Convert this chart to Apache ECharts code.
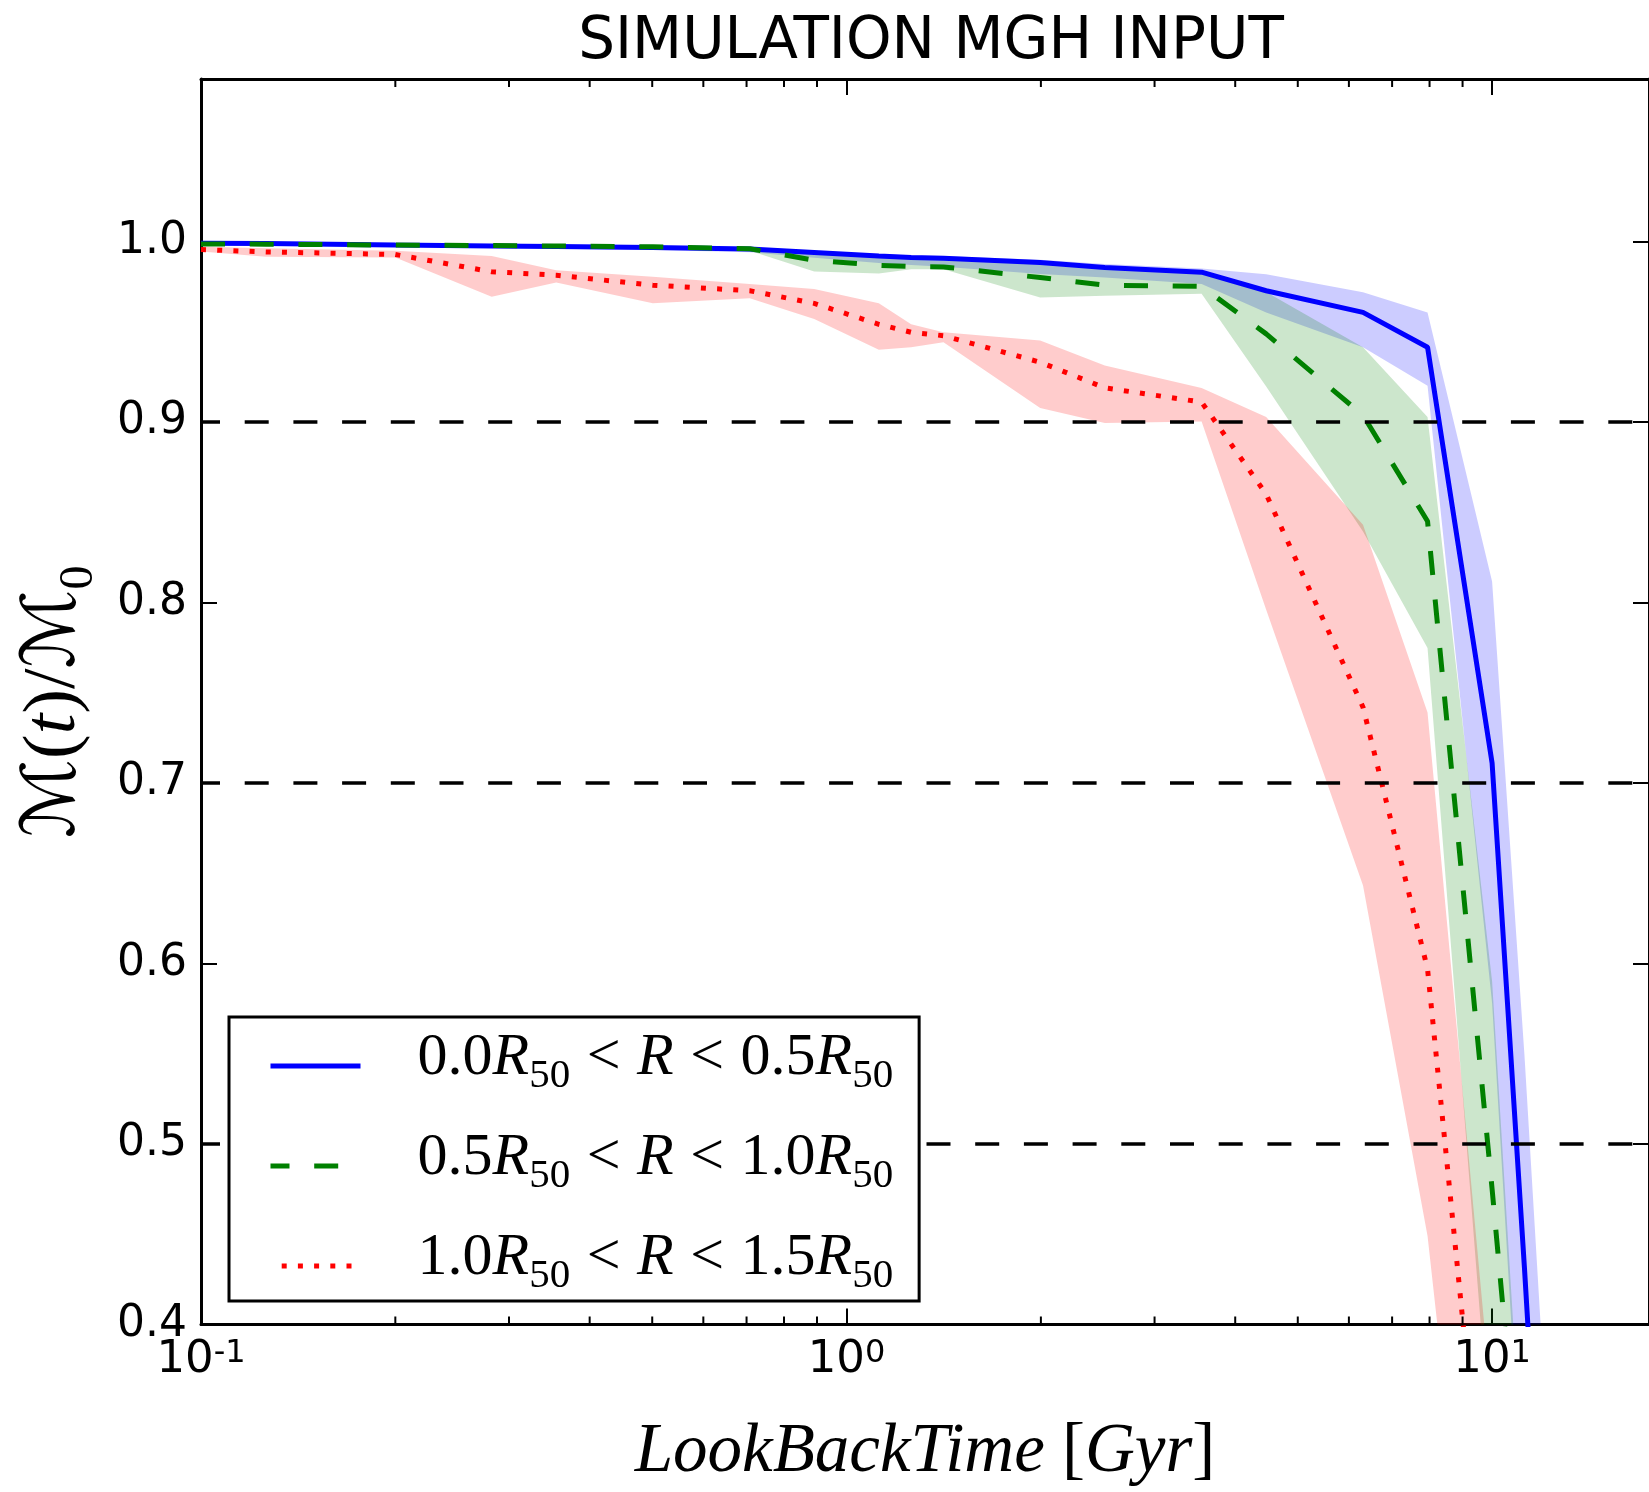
<!DOCTYPE html>
<html><head><meta charset="utf-8">
<script src="https://cdn.jsdelivr.net/npm/echarts@6/dist/echarts.min.js"></script>
<style>html,body{margin:0;padding:0;background:#fff}#c{width:1649px;height:1492px}</style>
</head><body><div id="c"></div>
<script>
const TITLE = 'SIMULATION MGH INPUT';
// look-back time grid (Gyr)
const LOOKBACK_GYR = [0.1, 0.126, 0.2, 0.282, 0.355, 0.501, 0.708, 0.891, 1.122, 1.259, 1.413, 1.995, 2.512, 3.548, 4.467, 6.31, 7.943, 10.0, 11.22, 12.59];
// 0.0-0.5 R50
const BLUE_MED = [0.999, 0.9988, 0.998, 0.9975, 0.9972, 0.9966, 0.9958, 0.9939, 0.992, 0.9911, 0.9907, 0.9883, 0.9856, 0.983, 0.9727, 0.9607, 0.9414, 0.711, 0.432, 0.134];
const BLUE_LO  = [0.998, 0.9978, 0.997, 0.9965, 0.996, 0.9952, 0.994, 0.991, 0.988, 0.987, 0.986, 0.982, 0.980, 0.9764, 0.9607, 0.9414, 0.920, 0.578, 0.28, 0.0];
const BLUE_HI  = [1.0, 0.9996, 0.9988, 0.9983, 0.998, 0.9974, 0.9966, 0.9948, 0.993, 0.9922, 0.992, 0.9898, 0.9875, 0.985, 0.9819, 0.9718, 0.9607, 0.8116, 0.55, 0.252];
// 0.5-1.0 R50
const GREEN_MED = [0.9986, 0.9985, 0.998, 0.9977, 0.9975, 0.997, 0.996, 0.9896, 0.9868, 0.9861, 0.9859, 0.980, 0.9758, 0.9751, 0.9488, 0.9037, 0.845, 0.475, 0.28, 0.1];
const GREEN_LO  = [0.998, 0.9978, 0.9972, 0.997, 0.9968, 0.9962, 0.9948, 0.9834, 0.9823, 0.9846, 0.9846, 0.969, 0.9699, 0.971, 0.9196, 0.8393, 0.7748, 0.32, 0.05, -0.2];
const GREEN_HI  = [0.999, 0.9988, 0.9982, 0.998, 0.9978, 0.9972, 0.9962, 0.994, 0.992, 0.991, 0.9905, 0.988, 0.9855, 0.983, 0.972, 0.9414, 0.9028, 0.59, 0.30, 0.0];
// 1.0-1.5 R50
const RED_MED = [0.9955, 0.9942, 0.9928, 0.9832, 0.9813, 0.9758, 0.9727, 0.9657, 0.9541, 0.9497, 0.9478, 0.9331, 0.9189, 0.911, 0.860, 0.742, 0.597, 0.24, 0.0, -0.3];
const RED_LO  = [0.9944, 0.9915, 0.9911, 0.9694, 0.9773, 0.9657, 0.9686, 0.957, 0.940, 0.9414, 0.9441, 0.9077, 0.8994, 0.9003, 0.796, 0.6432, 0.449, 0.126, -0.1, -0.3];
const RED_HI  = [0.997, 0.9962, 0.9948, 0.992, 0.9841, 0.9804, 0.9764, 0.9737, 0.9657, 0.9542, 0.9497, 0.9451, 0.9313, 0.9188, 0.9028, 0.843, 0.739, 0.353, 0.1, -0.2];

const BINS = [['0.0', '0.5'], ['0.5', '1.0'], ['1.0', '1.5']];
const SERIES_NAMES = BINS.map(b => b[0] + 'R50<R<' + b[1] + 'R50');
const REF_LEVELS = [0.9, 0.7, 0.5];
const MINOR_X_TICKS = [0.2, 0.3, 0.4, 0.5, 0.6, 0.7, 0.8, 0.9, 2, 3, 4, 5, 6, 7, 8, 9];
const X_MIN = 0.1, X_MAX = 17.5, Y_MIN = 0.4, Y_MAX = 1.09, Y_STEP = 0.1;

const COLORS = ['#0000ff', '#008000', '#ff0000'];
const BAND_COLORS = ['rgba(0,0,255,0.2)', 'rgba(0,128,0,0.2)', 'rgba(255,0,0,0.2)'];
const MEDS = [BLUE_MED, GREEN_MED, RED_MED];
const LOS = [BLUE_LO, GREEN_LO, RED_LO];
const HIS = [BLUE_HI, GREEN_HI, RED_HI];
const DASHES = ['solid', [24, 24.7], [5, 11.2]];

const SERIF = "'Liberation Serif', 'DejaVu Serif', serif";

const series = [];
// shaded bands: polygon between LO and HI, positioned through the axes
for (let k = 0; k < 3; k++) {
  series.push({
    type: 'custom', name: 'band' + k, silent: true, z: 1, clip: true,
    data: LOOKBACK_GYR.map((t, i) => [t, LOS[k][i], HIS[k][i]]),
    encode: { x: 0, y: [1, 2] },
    renderItem: function (params, api) {
      if (params.dataIndex !== 0) return null;
      const up = LOOKBACK_GYR.map((t, i) => api.coord([t, HIS[k][i]]));
      const lo = LOOKBACK_GYR.map((t, i) => api.coord([t, LOS[k][i]])).reverse();
      return { type: 'polygon', shape: { points: up.concat(lo) }, style: { fill: BAND_COLORS[k] } };
    }
  });
}
for (let k = 0; k < 3; k++) {
  series.push({
    type: 'line', name: SERIES_NAMES[k], z: 3,
    data: LOOKBACK_GYR.map((t, i) => [t, MEDS[k][i]]),
    symbol: 'none', showSymbol: false, color: COLORS[k],
    lineStyle: { color: COLORS[k], width: 5, type: DASHES[k], cap: 'butt' }
  });
}
// reference levels
series.push({
  type: 'line', name: 'ref', data: [], z: 3, silent: true,
  markLine: {
    silent: true, symbol: ['none', 'none'], label: { show: false },
    lineStyle: { color: '#000', width: 3.5, type: [24, 24.7], dashOffset: 5 },
    data: REF_LEVELS.map(v => ({ yAxis: v }))
  }
});
// minor log ticks (bottom and top)
series.push({
  type: 'custom', name: 'minorTicks', silent: true, z: 3, clip: false,
  data: MINOR_X_TICKS.map(v => [v, Y_MIN]),
  encode: { x: 0, y: 1 },
  renderItem: function (params, api) {
    const pb = api.coord([api.value(0), Y_MIN]);
    const pt = api.coord([api.value(0), Y_MAX]);
    return {
      type: 'group', children: [
        { type: 'line', shape: { x1: pb[0], y1: pb[1], x2: pb[0], y2: pb[1] - 8 }, style: { stroke: '#000', lineWidth: 2 } },
        { type: 'line', shape: { x1: pt[0], y1: pt[1], x2: pt[0], y2: pt[1] + 8 }, style: { stroke: '#000', lineWidth: 2 } }
      ]
    };
  }
});

const xLabelFmt = v => {
  const e = Math.log10(v);
  if (Math.abs(e - Math.round(e)) > 1e-6) return '';
  return '{b|10}{p|' + Math.round(e) + '}';
};
const yLabelFmt = v => {
  if (Math.abs(v * 10 - Math.round(v * 10)) > 1e-6) return '';
  return v.toFixed(1);
};

const mathN = { fontFamily: SERIF, fontSize: 60, lineHeight: 62, padding: [0, 0, 9, 0], verticalAlign: 'bottom', color: '#000' };
const option = {
  animation: false,
  backgroundColor: '#fff',
  title: {
    text: TITLE, left: 931, textAlign: 'center', top: 14, padding: 0,
    textStyle: { fontFamily: 'DejaVu Sans', fontSize: 58, fontWeight: 'normal', color: '#000', lineHeight: 58 }
  },
  grid: { left: 201, top: 79, width: 1449, height: 1250, containLabel: false },
  legend: {
    data: SERIES_NAMES, orient: 'vertical', left: 229, top: 1017, z: 20, zlevel: 0,
    backgroundColor: '#fff', borderColor: '#000', borderWidth: 3, borderRadius: 0,
    padding: [11, 26, 4, 39], itemGap: 31, itemWidth: 90, itemHeight: 14,
    lineStyle: { width: 5 },
    itemStyle: { opacity: 0 },
    formatter: name => {
      const b = BINS[SERIES_NAMES.indexOf(name)];
      return '{n0|' + b[0] + '}{r|R}{s|50}{o|<}{r|R}{o|<}{n|' + b[1] + '}{r|R}{s|50}';
    },
    textStyle: {
      rich: {
        n0: Object.assign({}, mathN, { padding: [0, 0, 9, 52] }),
        n: mathN,
        r: Object.assign({}, mathN, { fontStyle: 'italic' }),
        o: Object.assign({}, mathN, { padding: [0, 16.5, 9, 16.5] }),
        s: { fontFamily: SERIF, fontSize: 41, lineHeight: 40, verticalAlign: 'bottom', color: '#000' }
      }
    }
  },
  xAxis: [{
    type: 'log', logBase: 10, min: X_MIN, max: X_MAX, interval: 1, position: 'bottom',
    axisLine: { show: true, lineStyle: { color: '#000', width: 3 } },
    axisTick: { show: true, inside: true, length: 16, lineStyle: { color: '#000', width: 2 } },
    axisLabel: {
      formatter: xLabelFmt, margin: 13, showMaxLabel: false, color: '#000',
      rich: {
        b: { fontFamily: 'DejaVu Sans', fontSize: 45, lineHeight: 45, padding: [16, 0, 0, 0], verticalAlign: 'bottom', color: '#000' },
        p: { fontFamily: 'DejaVu Sans', fontSize: 32, lineHeight: 32, verticalAlign: 'top', color: '#000' }
      }
    },
    splitLine: { show: false },
    name: '{i|LookBackTime}{u| [}{i|Gyr}{u|]}', nameLocation: 'middle', nameGap: 93,
    nameTextStyle: {
      rich: {
        i: { fontFamily: SERIF, fontStyle: 'italic', fontSize: 69, lineHeight: 70, color: '#000' },
        u: { fontFamily: SERIF, fontSize: 69, lineHeight: 70, color: '#000' }
      }
    }
  }, {
    type: 'log', logBase: 10, min: X_MIN, max: X_MAX, interval: 1, position: 'top',
    axisLine: { show: true, lineStyle: { color: '#000', width: 3 } },
    axisTick: { show: true, inside: true, length: 16, lineStyle: { color: '#000', width: 2 } },
    axisLabel: { show: false }, splitLine: { show: false }
  }],
  yAxis: [{
    type: 'value', min: Y_MIN, max: Y_MAX, interval: Y_STEP, position: 'left',
    axisLine: { show: true, lineStyle: { color: '#000', width: 3 } },
    axisTick: { show: true, inside: true, length: 16, lineStyle: { color: '#000', width: 2 } },
    axisLabel: { formatter: yLabelFmt, margin: 14, showMaxLabel: false, fontFamily: 'DejaVu Sans', fontSize: 44, color: '#000' },
    splitLine: { show: false },
    name: '{m|ℳ}{u|(}{i|t}{u|)/}{m|ℳ}{s|0}', nameLocation: 'middle', nameGap: 98,
    nameTextStyle: {
      rich: {
        m: { fontFamily: "'DejaVu Serif', 'DejaVu Sans'", fontStyle: 'italic', fontSize: 74, lineHeight: 74, padding: [0, 0, 11, 0], verticalAlign: 'bottom', color: '#000' },
        u: { fontFamily: SERIF, fontSize: 74, lineHeight: 74, padding: [0, 0, 11, 0], verticalAlign: 'bottom', color: '#000' },
        i: { fontFamily: SERIF, fontStyle: 'italic', fontSize: 74, lineHeight: 74, padding: [0, 0, 11, 0], verticalAlign: 'bottom', color: '#000' },
        s: { fontFamily: SERIF, fontSize: 48, lineHeight: 48, verticalAlign: 'bottom', color: '#000' }
      }
    }
  }, {
    type: 'value', min: Y_MIN, max: Y_MAX, interval: Y_STEP, position: 'right',
    axisLine: { show: true, lineStyle: { color: '#000', width: 3 } },
    axisTick: { show: true, inside: true, length: 16, lineStyle: { color: '#000', width: 2 } },
    axisLabel: { show: false }, splitLine: { show: false }
  }],
  series: series
};
const chart = echarts.init(document.getElementById('c'), null, { renderer: 'canvas' });
chart.setOption(option);
</script></body></html>
